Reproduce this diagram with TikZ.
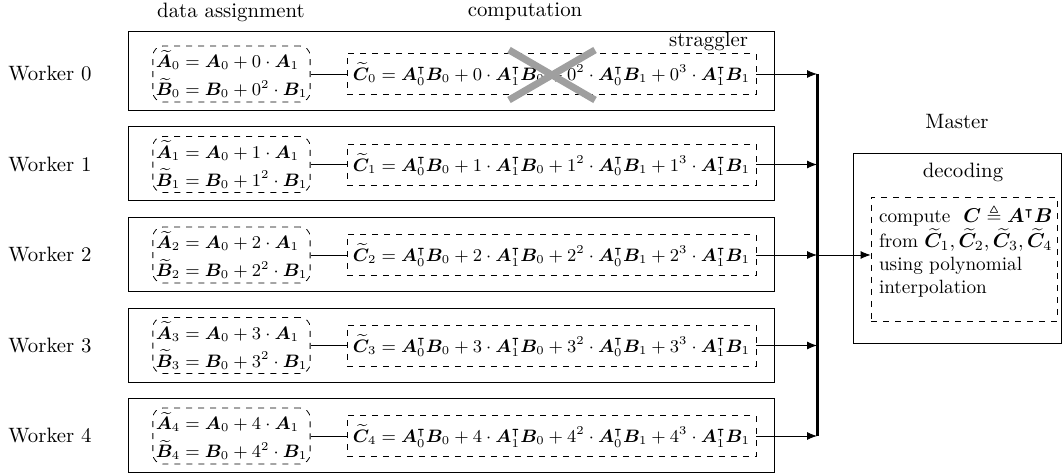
\documentclass[tikz,border=0pt]{standalone}
\usepackage{amsmath}
\usepackage{amssymb}
\usepackage{amsfonts}
\usepackage{bm}
\usetikzlibrary{arrows.meta}

\newcommand{\mA}{\bm{A}}
\newcommand{\mB}{\bm{B}}
\newcommand{\mC}{\bm{C}}
\newcommand{\wA}{\widetilde{\bm{A}}}
\newcommand{\wB}{\widetilde{\bm{B}}}
\newcommand{\wC}{\widetilde{\bm{C}}}
\newcommand{\tp}{\intercal}

\begin{document}
\begin{tikzpicture}[x=0.5pt, y=-0.5pt, every node/.style={align=center, font=\fontsize{10.4}{12.5}\selectfont},
  workerbox/.style={draw, minimum width=323pt, inner sep=0pt},
  assignbox/.style={draw, dashed, rounded corners=5pt, align=left, inner sep=1.5pt, minimum width=78pt, minimum height=28pt, font=\fontsize{9}{11}\selectfont},
  compbox/.style={draw, dashed, inner sep=3pt, minimum width=201pt, minimum height=20.5pt, font=\fontsize{9}{11}\selectfont},
  toarrow/.style={-{Latex[length=5pt,width=4pt]}}]
\useasboundingbox (0,0) rectangle (1063,474);

\node (hdata) at (231,12) {data assignment};
\node (hcomp) at (525,12) {computation};

% worker frames, the first one is taller because of the straggler label
\foreach \yc/\hh [count=\i from 0] in {70.5/39.5, 163/37, 254/37, 345/37, 435.5/37}
  \node[workerbox, minimum height=\hh pt] (w\i) at (451,\yc) {};

\coordinate (bustop) at (817,74);
\coordinate (busbot) at (817,436);

\foreach \i in {0,...,4} {
  \pgfmathsetmacro\yy{74+90.5*\i}
  \node (l\i) at (50,\yy) {Worker \i};
  \node[assignbox] (d\i) at (231.5,\yy) {$\wA_{\i} = \mA_0 + \i\cdot\mA_1$\\[3pt]$\wB_{\i} = \mB_0 + \i^2\cdot\mB_1$};
  \node[compbox] (c\i) at (551.5,\yy) {$\wC_{\i} = \mA_0^{\tp}\mB_0 + \i\cdot\mA_1^{\tp}\mB_0 + \i^2\cdot\mA_0^{\tp}\mB_1 + \i^3\cdot\mA_1^{\tp}\mB_1$};
  \draw (d\i) -- (c\i);
  \draw[toarrow] (c\i.east) -- (c\i.east -| bustop);
}
\draw[line width=1.5pt] (bustop) -- (busbot);

% straggler
\node[anchor=east] (strag) at (755,41) {straggler};
\draw[gray!75, line width=3.5pt] (509,50) -- (595,100) (509,100) -- (595,50);

% master
\node (mlabel) at (957,122) {Master};
\node[draw, minimum width=104pt, minimum height=95pt] (master) at (957.5,248) {};
\node (mdeco) at (963,172) {decoding};
\node[draw, dashed, minimum width=93pt, minimum height=62pt] (mdec) at (964,259) {};
\node[anchor=north west, align=left, inner sep=0pt, font=\fontsize{9.6}{11.4}\selectfont] (mtext) at ([shift={(8,8)}]mdec.north west)
  {compute \ $\mC \triangleq \mA^{\tp}\mB$\\from $\wC_1,\wC_2,\wC_3,\wC_4$\\using polynomial\\interpolation};
\coordinate (busmid) at (c2.east -| bustop);
\draw[toarrow] (busmid) -- (busmid -| mdec.west);
\end{tikzpicture}
\end{document}
